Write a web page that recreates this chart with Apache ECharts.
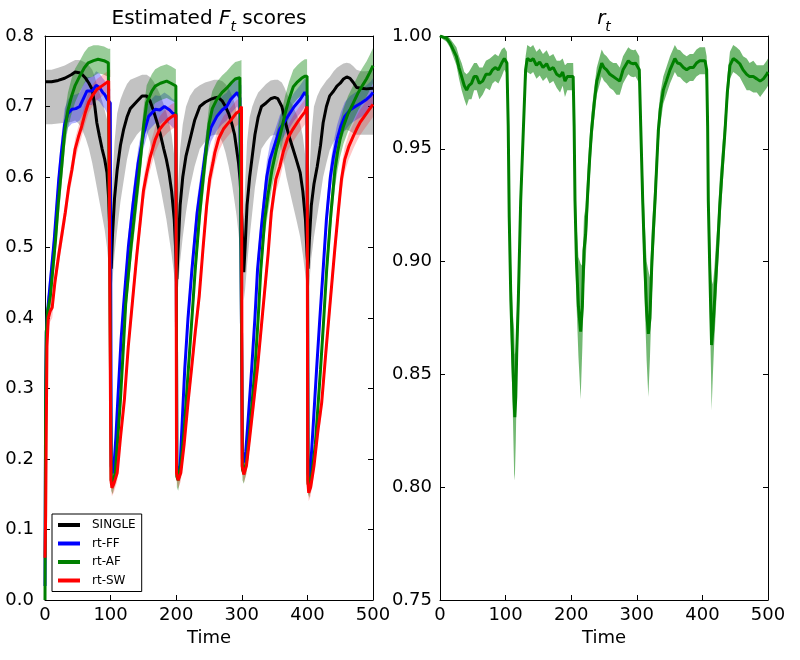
<!DOCTYPE html>
<html>
<head>
<meta charset="utf-8">
<script src="https://cdn.jsdelivr.net/npm/echarts@6/dist/echarts.min.js"></script>
<style>
html,body{margin:0;padding:0;background:#fff;}
#chart{width:800px;height:660px;}
</style>
</head>
<body>
<div id="chart"></div>
<script>
// ---- Data ----
const legendNames = ['SINGLE', 'rt-FF', 'rt-AF', 'rt-SW'];
const xTicks = [0, 100, 200, 300, 400, 500];

// SINGLE: [time, mean, lower, upper]
const singleRows = [
[0,0.735,0.675,0.752],[10,0.735,0.675,0.752],[20,0.737,0.676,0.755],[30,0.740,0.677,0.758],
[40,0.745,0.678,0.763],[46,0.749,0.680,0.766],[52,0.748,0.675,0.766],[56,0.746,0.668,0.765],
[62,0.740,0.655,0.762],[67,0.733,0.640,0.758],[72,0.724,0.620,0.752],[76,0.700,0.600,0.742],
[79,0.677,0.585,0.732],[83,0.658,0.565,0.720],[87,0.640,0.545,0.708],[91,0.625,0.525,0.695],
[94.5,0.606,0.500,0.682],[97,0.570,0.475,0.660],[99,0.520,0.455,0.620],[101,0.470,0.440,0.540],
[103,0.520,0.455,0.600],[106,0.570,0.490,0.650],[110,0.610,0.525,0.690],[115,0.645,0.565,0.710],
[120,0.668,0.595,0.722],[125,0.685,0.625,0.732],[130,0.697,0.645,0.738],[140,0.707,0.660,0.742],
[148,0.715,0.668,0.745],[155,0.715,0.665,0.745],[160,0.708,0.650,0.742],[165,0.695,0.630,0.736],
[171,0.677,0.605,0.726],[176,0.660,0.585,0.716],[181,0.640,0.560,0.703],[185,0.625,0.540,0.692],
[189,0.606,0.515,0.678],[193,0.580,0.490,0.660],[197,0.540,0.460,0.630],[199.5,0.490,0.440,0.590],
[201,0.455,0.430,0.520],
[203,0.500,0.445,0.590],[206,0.560,0.480,0.640],[210,0.600,0.515,0.675],[215,0.630,0.550,0.700],
[221,0.653,0.585,0.715],[228,0.680,0.615,0.725],[236,0.700,0.640,0.730],[244,0.706,0.650,0.734],
[252,0.710,0.658,0.736],[258,0.712,0.660,0.738],[264,0.713,0.660,0.738],[270,0.708,0.650,0.736],
[275,0.700,0.635,0.732],[280,0.690,0.615,0.726],[285,0.675,0.590,0.716],[289,0.660,0.565,0.705],
[292,0.640,0.545,0.692],[295,0.620,0.520,0.678],[297.5,0.595,0.495,0.660],[300,0.540,0.465,0.625],
[302,0.490,0.440,0.580],[303,0.465,0.425,0.540],
[305,0.500,0.440,0.590],[308,0.560,0.475,0.650],[312,0.600,0.515,0.685],[316,0.630,0.550,0.700],
[320,0.660,0.585,0.710],[325,0.685,0.615,0.720],[330,0.700,0.640,0.725],[337,0.705,0.650,0.732],
[344,0.711,0.658,0.737],[350,0.713,0.660,0.738],[355,0.711,0.655,0.738],[361,0.700,0.635,0.734],
[365,0.685,0.615,0.727],[368,0.672,0.600,0.720],[373,0.655,0.580,0.710],[378,0.640,0.560,0.700],
[383,0.625,0.540,0.690],[389,0.606,0.515,0.676],[393,0.580,0.490,0.658],[397,0.540,0.460,0.628],
[399.5,0.490,0.440,0.590],[401,0.470,0.430,0.540],
[403,0.510,0.450,0.600],[406,0.560,0.485,0.660],[410,0.590,0.515,0.700],[415,0.615,0.545,0.715],
[420,0.645,0.575,0.725],[424,0.677,0.600,0.730],[429,0.700,0.620,0.737],[434,0.715,0.638,0.742],
[440,0.722,0.650,0.750],[445,0.729,0.658,0.755],[450,0.733,0.662,0.758],[455,0.739,0.665,0.761],
[460,0.742,0.667,0.762],[465,0.740,0.665,0.761],[470,0.734,0.662,0.757],[475,0.727,0.660,0.752],
[482,0.726,0.660,0.750],[490,0.725,0.660,0.750],[500,0.726,0.660,0.752]
];

// rt-FF: [time, mean, half-width of band]
const ffRows = [
[0,0.02,0.01],[1,0.30,0.03],[2,0.38,0.02],[4,0.41,0.02],[7,0.44,0.02],[10,0.47,0.02],[14,0.51,0.02],
[18,0.56,0.02],[21,0.597,0.02],[25,0.635,0.022],[30,0.675,0.022],[35,0.69,0.02],[41,0.696,0.02],
[47,0.697,0.02],[53,0.70,0.02],[58,0.71,0.02],[64,0.722,0.02],[72,0.722,0.02],[78,0.73,0.02],
[83,0.727,0.02],[88,0.72,0.02],[91,0.717,0.02],[95,0.71,0.02],[99.5,0.705,0.02],
[101,0.19,0.01],[102.5,0.18,0.01],[104.7,0.185,0.01],[108,0.23,0.012],[111,0.284,0.015],[116,0.37,0.015],
[120,0.42,0.018],[127,0.50,0.02],[134,0.56,0.02],[142,0.62,0.02],[150,0.66,0.02],[158,0.686,0.02],
[168,0.696,0.02],[175,0.695,0.02],[182,0.70,0.02],[190,0.695,0.02],[195,0.69,0.02],[199.5,0.69,0.02],
[201,0.19,0.01],[203,0.18,0.01],[206,0.19,0.01],[209,0.25,0.012],[213,0.327,0.015],[218,0.40,0.018],
[224,0.469,0.02],[232,0.55,0.02],[241,0.61,0.02],[246,0.645,0.02],[253,0.67,0.02],[262,0.686,0.02],
[270,0.695,0.02],[277,0.70,0.02],[283,0.71,0.02],[288,0.715,0.02],[293,0.72,0.02],[297,0.712,0.02],[299.5,0.71,0.02],
[301,0.20,0.01],[302.5,0.195,0.01],[306,0.21,0.01],[310,0.26,0.012],[315,0.327,0.015],[320,0.40,0.018],
[324,0.469,0.02],[330,0.53,0.02],[338,0.60,0.022],[343,0.625,0.022],[350,0.645,0.02],[358,0.668,0.02],
[366,0.68,0.02],[373,0.69,0.02],[380,0.70,0.02],[389,0.71,0.02],[396,0.72,0.02],[399.5,0.715,0.02],
[401,0.18,0.01],[402.5,0.17,0.01],[405,0.19,0.01],[409,0.25,0.012],[414,0.327,0.015],[419,0.40,0.018],
[424,0.469,0.02],[429,0.54,0.02],[435,0.60,0.02],[440,0.63,0.02],[445,0.653,0.02],[451,0.672,0.02],
[457,0.686,0.02],[465,0.695,0.02],[473,0.70,0.02],[482,0.705,0.02],[490,0.71,0.02],[496,0.715,0.02],[500,0.72,0.02]
];

// rt-AF: [time, mean, half-width of band]
const afRows = [
[0,0.0,0.005],[1,0.28,0.03],[2,0.38,0.02],[4,0.41,0.02],[8,0.43,0.02],[12,0.47,0.02],[16,0.51,0.022],
[20,0.56,0.025],[25,0.61,0.025],[30.5,0.668,0.025],[35,0.695,0.025],[40.6,0.715,0.025],[46,0.73,0.024],
[53,0.743,0.022],[60,0.755,0.022],[66,0.762,0.022],[74,0.765,0.022],[81,0.767,0.02],[90,0.765,0.02],
[96.5,0.762,0.02],[99.5,0.762,0.02],
[101,0.17,0.015],[103,0.165,0.015],[107,0.18,0.015],[111,0.23,0.015],[115,0.284,0.015],[119,0.35,0.018],
[123,0.42,0.02],[131,0.50,0.022],[138,0.56,0.025],[145,0.62,0.025],[150,0.67,0.025],[155,0.705,0.025],
[163,0.722,0.024],[168,0.729,0.024],[176,0.733,0.024],[185.5,0.736,0.024],[192,0.733,0.024],[199.5,0.729,0.024],
[201,0.175,0.015],[203,0.17,0.015],[207,0.19,0.015],[212,0.24,0.015],[218.5,0.327,0.018],[224,0.40,0.02],
[229,0.469,0.02],[236,0.55,0.022],[241,0.597,0.025],[246.5,0.645,0.025],[250,0.675,0.025],[255,0.697,0.025],
[262,0.71,0.025],[270,0.72,0.024],[277,0.726,0.024],[284.5,0.734,0.024],[290,0.739,0.024],[297,0.741,0.024],[299.5,0.742,0.024],
[301,0.185,0.015],[303,0.18,0.015],[307,0.195,0.015],[312,0.24,0.015],[320,0.327,0.018],[325,0.40,0.02],
[329,0.469,0.02],[335,0.54,0.022],[340,0.575,0.025],[346,0.61,0.025],[353,0.64,0.025],[360,0.665,0.025],
[366,0.69,0.025],[372,0.71,0.025],[378.5,0.728,0.024],[385,0.735,0.024],[391,0.74,0.024],[396,0.743,0.024],[399.5,0.743,0.024],
[401,0.165,0.015],[403,0.16,0.015],[407,0.18,0.015],[412,0.22,0.015],[420,0.327,0.018],[425,0.40,0.02],
[429.4,0.469,0.02],[436,0.55,0.022],[442,0.61,0.025],[446,0.635,0.025],[449.7,0.653,0.025],[455,0.672,0.025],
[462,0.69,0.025],[470,0.705,0.025],[477.6,0.72,0.025],[484,0.73,0.025],[490,0.739,0.025],[495,0.748,0.025],[500,0.758,0.025]
];

// rt-SW: [time, mean, half-width of band]
const swRows = [
[0,0.06,0.01],[1,0.12,0.02],[2,0.25,0.02],[3,0.36,0.02],[5,0.40,0.015],[8,0.41,0.015],[11,0.415,0.015],
[15,0.45,0.015],[21,0.49,0.015],[26,0.52,0.015],[31,0.55,0.015],[36,0.585,0.015],[41,0.61,0.015],
[46,0.64,0.015],[51,0.657,0.015],[56,0.672,0.015],[61,0.69,0.015],[66.6,0.706,0.015],[72,0.715,0.015],
[79,0.724,0.015],[88,0.73,0.015],[97,0.736,0.015],[99.5,0.737,0.015],
[100.5,0.17,0.01],[102,0.159,0.012],[105,0.165,0.012],[110,0.18,0.012],[115,0.23,0.012],[121,0.284,0.015],
[127,0.36,0.015],[133,0.42,0.018],[140,0.49,0.018],[145,0.535,0.018],[150,0.58,0.018],[155,0.605,0.018],
[160,0.627,0.018],[168,0.653,0.018],[175,0.668,0.018],[182,0.676,0.018],[188,0.682,0.018],[194,0.686,0.018],[199.5,0.688,0.018],
[200.5,0.18,0.01],[203,0.17,0.012],[207,0.18,0.012],[212,0.22,0.012],[218,0.28,0.015],[223.6,0.33,0.015],
[229,0.38,0.018],[235,0.43,0.018],[241,0.50,0.018],[246.5,0.56,0.018],[251,0.597,0.018],[256,0.62,0.018],
[259,0.635,0.018],[265,0.655,0.018],[272,0.668,0.018],[278,0.675,0.018],[284.5,0.682,0.018],[291,0.69,0.018],
[297,0.694,0.018],[299.5,0.70,0.018],
[300.5,0.19,0.01],[303,0.178,0.012],[307,0.19,0.012],[312,0.23,0.012],[318,0.28,0.015],[324,0.33,0.015],
[329,0.38,0.018],[334,0.43,0.018],[340,0.49,0.018],[345,0.55,0.018],[352,0.597,0.018],[358,0.615,0.018],
[363,0.635,0.018],[370,0.655,0.018],[378,0.668,0.018],[385,0.678,0.018],[391,0.686,0.018],[396,0.692,0.018],[399.5,0.70,0.018],
[400.5,0.17,0.01],[402,0.152,0.012],[405,0.16,0.012],[410,0.19,0.012],[416,0.24,0.015],[421.8,0.28,0.015],
[428,0.35,0.018],[434.5,0.42,0.018],[442,0.50,0.018],[447,0.55,0.018],[452,0.597,0.018],[457,0.625,0.018],
[463,0.643,0.018],[470,0.658,0.018],[475,0.668,0.018],[480,0.677,0.018],[486,0.685,0.018],[493,0.694,0.018],[500,0.703,0.018]
];

// r_t: [time, mean, half-width of band]
const rtRows = [
[0,1.0,0.0005],[5,0.9995,0.001],[10,0.999,0.0015],[15,0.997,0.002],[20,0.994,0.003],[25,0.991,0.004],
[29,0.986,0.005],[33,0.982,0.006],[37,0.978,0.006],[40.6,0.976,0.007],[44,0.978,0.006],[48,0.979,0.007],
[52,0.982,0.006],[56,0.982,0.006],[60,0.979,0.007],[65,0.98,0.006],[70,0.983,0.006],[76,0.983,0.007],
[80,0.985,0.006],[84,0.986,0.006],[89,0.985,0.006],[94,0.988,0.006],[98,0.99,0.005],[102,0.988,0.005],
[104,0.96,0.012],[105.5,0.92,0.015],[108,0.883,0.018],[111,0.855,0.022],[113,0.838,0.032],[114,0.831,0.028],
[115.5,0.84,0.02],[117,0.86,0.015],[119.4,0.883,0.012],[123,0.927,0.01],[127,0.958,0.008],[130.5,0.985,0.006],
[133,0.99,0.006],[138,0.989,0.006],[142,0.99,0.006],[147,0.987,0.006],[152,0.9885,0.006],[157,0.986,0.006],
[162.6,0.9877,0.006],[167,0.985,0.006],[172.7,0.986,0.006],[178,0.983,0.006],[183,0.982,0.007],[187,0.984,0.006],
[190.5,0.98,0.007],[194,0.982,0.006],[198,0.982,0.006],[203,0.982,0.006],
[204.5,0.96,0.012],[205.8,0.927,0.015],[208,0.90,0.018],[211,0.88,0.022],[214.4,0.869,0.03],[217,0.88,0.018],
[219.5,0.905,0.015],[222,0.912,0.012],[224.5,0.927,0.012],[228,0.945,0.01],[231,0.958,0.008],[235,0.97,0.007],
[239,0.98,0.006],[246.5,0.988,0.006],[250,0.986,0.006],[254,0.985,0.006],[259,0.983,0.006],[264,0.982,0.006],
[269,0.981,0.007],[274,0.98,0.006],[279,0.985,0.006],[283,0.987,0.006],[287,0.989,0.006],[291,0.988,0.006],
[294.7,0.9877,0.006],[298,0.988,0.006],[303.8,0.985,0.006],
[306,0.96,0.012],[309,0.927,0.015],[312,0.90,0.018],[315,0.878,0.022],[317.6,0.868,0.028],[320,0.875,0.018],
[323,0.90,0.015],[325.5,0.915,0.012],[328,0.928,0.012],[332.8,0.958,0.008],[336,0.968,0.007],[340.4,0.976,0.006],
[345,0.98,0.006],[350.6,0.985,0.006],[358,0.99,0.006],[362,0.988,0.006],[366,0.9877,0.006],[371,0.986,0.006],
[376,0.985,0.006],[381,0.986,0.006],[386,0.986,0.006],[391,0.988,0.006],[396,0.989,0.006],[400,0.989,0.006],
[404,0.989,0.006],[406.5,0.985,0.006],
[408,0.96,0.012],[409,0.927,0.015],[411,0.90,0.018],[413,0.875,0.022],[414,0.863,0.029],[416,0.87,0.02],
[418,0.88,0.016],[420,0.89,0.015],[423,0.905,0.012],[426.5,0.925,0.012],[430,0.94,0.01],[434.5,0.958,0.008],
[438,0.975,0.007],[442,0.987,0.006],[447,0.99,0.006],[452,0.989,0.006],[457,0.9877,0.006],[462,0.985,0.006],
[467.5,0.983,0.007],[472,0.982,0.006],[477.6,0.982,0.007],[483,0.981,0.006],[488,0.98,0.007],[493,0.981,0.006],
[498,0.983,0.006],[500,0.984,0.006]
];

// ---- Chart ----
const FONT = 'DejaVu Sans';
const chart = echarts.init(document.getElementById('chart'), null, {renderer: 'canvas'});

function band(rows, lo, hi, color, gi, z) {
  return {
    type: 'custom', xAxisIndex: gi, yAxisIndex: gi, clip: true, silent: true, z: z,
    data: rows.map(r => [r[0], r[1]]),
    encode: {x: 0, y: 1},
    renderItem: function (params, api) {
      if (params.dataIndex !== 0) return null;
      const up = rows.map(r => api.coord([r[0], hi(r)]));
      const dn = rows.map(r => api.coord([r[0], lo(r)])).reverse();
      return {type: 'polygon', shape: {points: up.concat(dn)}, style: {fill: color}};
    }
  };
}
function line(name, rows, color, gi, z) {
  return {
    name: name, type: 'line', xAxisIndex: gi, yAxisIndex: gi, color: color,
    data: rows.map(r => [r[0], r[1]]), symbol: 'none', showSymbol: false,
    lineStyle: {color: color, width: 3}, clip: true, z: z, silent: true
  };
}
const symLo = r => r[1] - r[2];
const symHi = r => r[1] + r[2];

const tickLabel = {fontFamily: FONT, fontSize: 18, color: '#000'};
function xAx(gi, pos) {
  const bottom = pos === 'bottom';
  return {
    gridIndex: gi, type: 'value', position: pos, min: 0, max: 500, interval: 100,
    axisLine: {show: true, onZero: false, lineStyle: {color: '#000', width: 1}},
    axisTick: {show: true, inside: true, length: 5, lineStyle: {color: '#000', width: 1}},
    axisLabel: Object.assign({show: bottom, margin: 6}, tickLabel),
    splitLine: {show: false},
    name: bottom ? 'Time' : '', nameLocation: 'middle', nameGap: 29,
    nameTextStyle: {fontFamily: FONT, fontSize: 18, color: '#000'}
  };
}
function yAx(gi, pos, min, max, step, dec) {
  const left = pos === 'left';
  return {
    gridIndex: gi, type: 'value', position: pos, min: min, max: max, interval: step,
    axisLine: {show: true, onZero: false, lineStyle: {color: '#000', width: 1}},
    axisTick: {show: true, inside: true, length: 5, lineStyle: {color: '#000', width: 1}},
    axisLabel: Object.assign({show: left, margin: gi === 0 ? 11 : 8, formatter: v => v.toFixed(dec)}, tickLabel),
    splitLine: {show: false}
  };
}
const titleRich = {
  m: {fontFamily: FONT, fontStyle: 'italic', fontSize: 20, color: '#000', lineHeight: 30},
  s: {fontFamily: FONT, fontStyle: 'italic', fontSize: 14, color: '#000', lineHeight: 14, verticalAlign: 'bottom'}
};

const option = {
  animation: false,
  backgroundColor: '#fff',
  textStyle: {fontFamily: FONT},
  title: [
    {text: 'Estimated {m|F}{s|t} scores', left: 209, top: 4, textAlign: 'center', padding: 0,
     textStyle: {fontFamily: FONT, fontSize: 20, fontWeight: 'normal', color: '#000', lineHeight: 30, rich: titleRich}},
    {text: '{m|r}{s|t}', left: 604, top: 4, textAlign: 'center', padding: 0,
     textStyle: {fontFamily: FONT, fontSize: 20, fontWeight: 'normal', color: '#000', lineHeight: 30, rich: titleRich}}
  ],
  grid: [
    {left: 45, top: 36, width: 328, height: 564, outerBoundsMode: 'none', containLabel: false},
    {left: 440, top: 36, width: 328, height: 564, outerBoundsMode: 'none', containLabel: false}
  ],
  xAxis: [xAx(0, 'bottom'), xAx(1, 'bottom'), xAx(0, 'top'), xAx(1, 'top')],
  yAxis: [
    yAx(0, 'left', 0, 0.8, 0.1, 1), yAx(1, 'left', 0.75, 1.0, 0.05, 2),
    yAx(0, 'right', 0, 0.8, 0.1, 1), yAx(1, 'right', 0.75, 1.0, 0.05, 2)
  ],
  legend: {
    data: legendNames, orient: 'vertical', left: 52, top: 514,
    icon: 'rect', itemWidth: 22, itemHeight: 4, itemGap: 6.5,
    padding: [5, 6, 5, 6], borderColor: '#000', borderWidth: 1, borderRadius: 0,
    backgroundColor: '#fff', selectedMode: false,
    textStyle: {fontFamily: FONT, fontSize: 12, color: '#000', padding: [0, 0, 0, 7]}
  },
  series: [
    band(singleRows, r => r[2], r => r[3], 'rgba(0,0,0,0.24)', 0, 1),
    band(ffRows, symLo, symHi, 'rgba(0,0,255,0.3)', 0, 1),
    band(afRows, symLo, symHi, 'rgba(0,128,0,0.4)', 0, 1),
    band(swRows, symLo, symHi, 'rgba(255,0,0,0.22)', 0, 1),
    line('SINGLE', singleRows, '#000000', 0, 3),
    line('rt-FF', ffRows, '#0000ff', 0, 3),
    line('rt-AF', afRows, '#008000', 0, 3),
    line('rt-SW', swRows, '#ff0000', 0, 3),
    band(rtRows, symLo, symHi, 'rgba(0,128,0,0.55)', 1, 1),
    line('r_t', rtRows, '#008000', 1, 3)
  ]
};
chart.setOption(option);
</script>
</body>
</html>
